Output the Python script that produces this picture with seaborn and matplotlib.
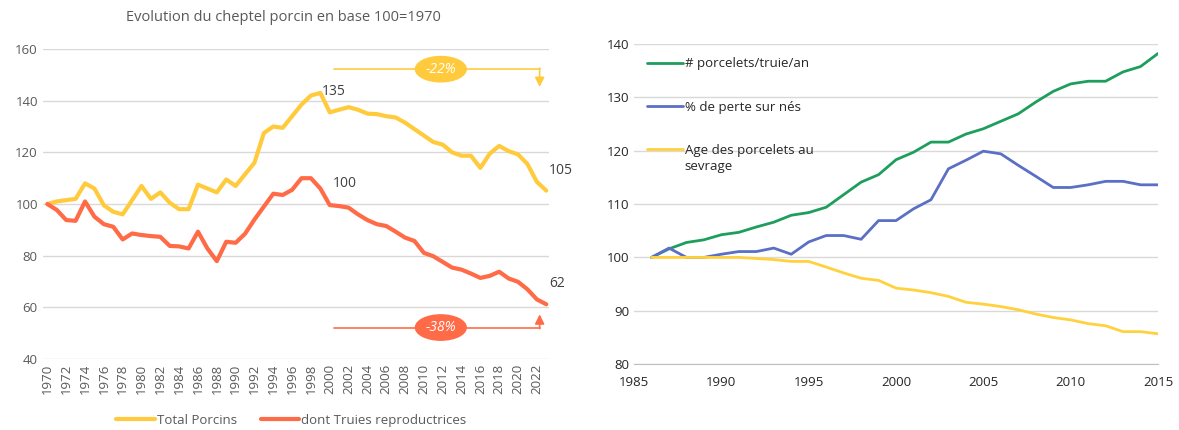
import numpy as np
import pandas as pd
import matplotlib
matplotlib.use("Agg")
import matplotlib.pyplot as plt
import seaborn as sns
from matplotlib.patches import Ellipse

# Données
annees_cheptel = list(range(1970, 2024))
total_porcins = [100, 101, 101.5, 102, 108, 106, 99.5, 97, 96, 101.5,
                 107, 102, 104.5, 100.5, 98, 98, 107.5, 106, 104.5, 109.5,
                 107, 111.5, 116, 127.5, 130, 129.5, 134, 138.5, 142, 143,
                 135.5, 136.5, 137.5, 136.5, 135, 134.8, 134, 133.5, 131.5, 129,
                 126.5, 124, 123, 120, 118.7, 118.7, 114, 119.5, 122.5, 120.5,
                 119.2, 115.5, 108.6, 105.2]
truies = [100, 97.7, 93.8, 93.5, 101, 95.1, 92.2, 91.2, 86.3, 88.6,
          88, 87.6, 87.3, 83.8, 83.6, 82.8, 89.3, 82.8, 77.9, 85.4,
          85, 88.5, 94, 99, 104, 103.5, 105.5, 110, 110, 106,
          99.6, 99.2, 98.6, 96, 93.8, 92.2, 91.5, 89.3, 87, 85.7,
          81.1, 79.8, 77.6, 75.4, 74.6, 73.1, 71.4, 72.2, 73.8, 71.2,
          69.9, 67, 63.1, 61.2]

annees_perf = list(range(1986, 2016))
porcelets_truie = [100, 101.6, 102.8, 103.3, 104.25, 104.7, 105.7, 106.6, 107.9, 108.4,
                   109.4, 111.75, 114.1, 115.5, 118.3, 119.7, 121.6, 121.6, 123.1, 124.1,
                   125.5, 126.9, 129.1, 131.1, 132.5, 133, 133, 134.75, 135.75, 138.2]
perte_nes = [100, 101.75, 100, 100, 100.6, 101.1, 101.1, 101.75, 100.6, 102.9,
             104.1, 104.1, 103.4, 106.9, 106.9, 109.1, 110.8, 116.6, 118.2, 119.9,
             119.4, 117.25, 115.2, 113.1, 113.1, 113.6, 114.25, 114.25, 113.6, 113.6]
age_sevrage = [100, 100, 100, 100, 100, 100, 99.8, 99.6, 99.25, 99.25,
               98.2, 97.1, 96.1, 95.7, 94.25, 93.9, 93.4, 92.7, 91.6, 91.25,
               90.8, 90.2, 89.4, 88.75, 88.3, 87.6, 87.2, 86.1, 86.1, 85.7]

jaune = "#FFCB3D"
rouge = "#FF6B47"
vert = "#1E9E5C"
bleu = "#5B6FC4"
jaune2 = "#FFD13F"
gris = "#595959"

sns.set_style("white")
plt.rcParams["font.family"] = ["Open Sans", "DejaVu Sans"]

df_cheptel = pd.DataFrame({"annee": annees_cheptel,
                           "Total Porcins": total_porcins,
                           "dont Truies reproductrices": truies})
df_perf = pd.DataFrame({"annee": annees_perf,
                        "# porcelets/truie/an": porcelets_truie,
                        "% de perte sur nés": perte_nes,
                        "Age des porcelets au": age_sevrage})

fig = plt.figure(figsize=(11.79, 4.30), dpi=100)
ax1 = fig.add_axes([0.0362, 0.165, 0.4295, 0.721])
ax2 = fig.add_axes([0.5378, 0.153, 0.4444, 0.745])

# Graphique de gauche
sns.lineplot(x="annee", y="Total Porcins", data=df_cheptel, ax=ax1,
             color=jaune, linewidth=3, label="Total Porcins")
sns.lineplot(x="annee", y="dont Truies reproductrices", data=df_cheptel, ax=ax1,
             color=rouge, linewidth=3, label="dont Truies reproductrices")
ax1.set_xlim(1969.5, 2023.3)
ax1.set_ylim(40, 160)
ax1.set_yticks(range(40, 161, 20))
ax1.set_xticks(range(1970, 2023, 2))
ax1.set_xticklabels([str(a) for a in range(1970, 2023, 2)], rotation=90)
ax1.grid(axis="y", color="#d9d9d9", linewidth=1)
ax1.set_axisbelow(True)
for s in ax1.spines.values():
    s.set_visible(False)
ax1.tick_params(colors=gris, labelsize=9.5, length=0)
ax1.set_xlabel("")
ax1.set_ylabel("")
ax1.set_title("Evolution du cheptel porcin en base 100=1970", color=gris,
              fontsize=10.5, pad=20, x=0.475)
h, l = ax1.get_legend_handles_labels()
ax1.get_legend().remove()
fig.legend(h, l, loc="center", bbox_to_anchor=(0.247, 0.022), ncol=2,
           frameon=False, fontsize=9.5, handlelength=2.9, columnspacing=1.8,
           handletextpad=0.15, labelcolor=gris)

ax1.text(1999.2, 140.8, "135", color="#404040", fontsize=10, va="bottom")
ax1.text(2000.3, 105, "100", color="#404040", fontsize=10, va="bottom")
ax1.text(2023.3, 110, "105", color="#404040", fontsize=10, va="bottom")
ax1.text(2023.3, 66.5, "62", color="#404040", fontsize=10, va="bottom")

# flèches -22% et -38%
ax1.plot([2000.4, 2022.3], [152.2, 152.2], color=jaune, linewidth=1.2)
ax1.annotate("", xy=(2022.3, 145.3), xytext=(2022.3, 152.6),
             arrowprops=dict(arrowstyle="-|>", color=jaune, lw=1.2,
                             mutation_scale=14, shrinkA=0, shrinkB=0))
ax1.add_patch(Ellipse((2011.8, 152.2), 5.4, 9.8, color=jaune, zorder=5))
ax1.text(2011.8, 152.2, "-22%", color="white", fontsize=10, style="italic",
         ha="center", va="center", zorder=6)

ax1.plot([2000.4, 2022.3], [52.2, 52.2], color=rouge, linewidth=1.2)
ax1.annotate("", xy=(2022.3, 57.3), xytext=(2022.3, 51.8),
             arrowprops=dict(arrowstyle="-|>", color=rouge, lw=1.2,
                             mutation_scale=14, shrinkA=0, shrinkB=0))
ax1.add_patch(Ellipse((2011.8, 52.2), 5.4, 9.8, color=rouge, zorder=5))
ax1.text(2011.8, 52.2, "-38%", color="white", fontsize=10, style="italic",
         ha="center", va="center", zorder=6)

# Graphique de droite
for col, c in zip(["# porcelets/truie/an", "% de perte sur nés",
                   "Age des porcelets au"], [vert, bleu, jaune2]):
    sns.lineplot(x="annee", y=col, data=df_perf, ax=ax2, color=c,
                 linewidth=2, label=col)
ax2.set_xlim(1985, 2015)
ax2.set_ylim(80, 140)
ax2.set_xticks(range(1985, 2016, 5))
ax2.set_yticks(range(80, 141, 10))
ax2.grid(axis="y", color="#d9d9d9", linewidth=1)
ax2.set_axisbelow(True)
for s in ["top", "right", "left"]:
    ax2.spines[s].set_visible(False)
ax2.spines["bottom"].set_color("#bfbfbf")
ax2.tick_params(axis="x", colors="#bfbfbf", labelcolor="#262626", length=5,
                labelsize=9.5)
ax2.tick_params(axis="y", colors="#262626", length=0, labelsize=9.5)
ax2.set_xlabel("")
ax2.set_ylabel("")
leg = ax2.legend(loc="upper left", bbox_to_anchor=(0.002, 0.995), frameon=False,
                 fontsize=9.5, handlelength=2.7, labelspacing=2.3,
                 handletextpad=0.15, labelcolor="#262626")

# deuxième ligne du libellé "Age des porcelets au sevrage"
fig.canvas.draw()
bb = leg.get_texts()[2].get_window_extent()
x0, y0 = fig.transFigure.inverted().transform((bb.x0, bb.y0))
fig.text(x0, y0 - 0.008, "sevrage", color="#262626", fontsize=9.5, va="top")

fig.savefig("out.png", dpi=100)
